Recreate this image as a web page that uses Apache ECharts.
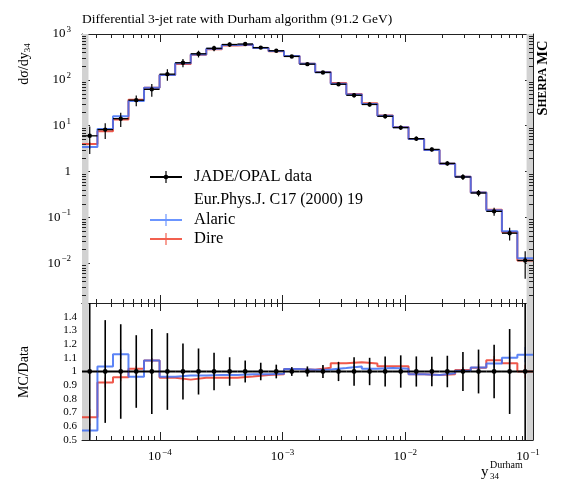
<!DOCTYPE html>
<html>
<head>
<meta charset="utf-8">
<script src="https://cdn.jsdelivr.net/npm/echarts@6/dist/echarts.min.js"></script>
<style>
html, body { margin: 0; padding: 0; background: #fff; }
#chart { width: 562px; height: 483px; }
</style>
</head>
<body>
<div id="chart"></div>
<script>
// y34 bin edges (log spaced)
const binEdges = [2.32e-5, 3.10e-5, 4.15e-5, 5.55e-5, 7.43e-5, 9.95e-5, 1.333e-4, 1.786e-4, 2.39e-4,
  3.20e-4, 4.29e-4, 5.74e-4, 7.69e-4, 1.028e-3, 1.377e-3, 1.845e-3, 2.47e-3, 3.31e-3, 4.43e-3,
  5.93e-3, 7.94e-3, 1.064e-2, 1.425e-2, 1.905e-2, 2.55e-2, 3.42e-2, 4.58e-2, 6.14e-2, 8.20e-2, 0.110];

// JADE/OPAL data and relative errors
const dataVals = [6.0, 8.2, 14.2, 36, 62, 133, 236, 370, 487, 590, 604, 505, 431, 324, 220, 145, 80, 46,
  29, 16, 9.06, 5.2, 3.03, 1.50, 0.76, 0.34, 0.135, 0.045, 0.0114];
const dataRelErr = [0.6, 0.375, 0.345, 0.265, 0.31, 0.28, 0.205, 0.168, 0.136, 0.104, 0.08, 0.064, 0.05,
  0.032, 0.037, 0.047, 0.07, 0.104, 0.1, 0.11, 0.118, 0.11, 0.107, 0.115, 0.142, 0.16, 0.195, 0.31, 0.6];

// Sherpa MC (Alaric / Dire shower)
const alaricVals = [3.42, 8.50, 16.0, 34.6, 67.0, 128, 229, 359, 475, 575, 592, 495, 424, 330, 223, 147,
  82.0, 47.7, 29.6, 16.4, 9.24, 5.10, 2.95, 1.48, 0.764, 0.350, 0.143, 0.0495, 0.0128];
const direVals = [4.00, 7.54, 13.6, 36.7, 67.0, 127, 222, 353, 465, 563, 582, 492, 422, 330, 223, 149,
  84.8, 49.1, 30.7, 16.6, 9.40, 5.10, 2.95, 1.47, 0.769, 0.349, 0.146, 0.0477, 0.0114];
const alaricRelErr = [0.09, 0.04, 0.03, 0.02, 0.015, 0.01, 0.01, 0.01, 0.008, 0.008, 0.008, 0.008, 0.008,
  0.008, 0.008, 0.01, 0.01, 0.01, 0.01, 0.012, 0.012, 0.015, 0.015, 0.018, 0.02, 0.025, 0.03, 0.04, 0.05];
const direRelErr = [0.09, 0.04, 0.03, 0.02, 0.015, 0.01, 0.01, 0.01, 0.008, 0.008, 0.008, 0.008, 0.008,
  0.008, 0.008, 0.01, 0.01, 0.01, 0.01, 0.012, 0.012, 0.015, 0.015, 0.018, 0.02, 0.025, 0.03, 0.04, 0.05];

// grey bands at the edges of the range
const bandRanges = [[2.32e-5, 2.62e-5], [0.0975, 0.110]];

// tick labels
const mainYTicks = [1e-2, 1e-1, 1, 10, 100, 1000];
const xTicks = [1e-4, 1e-3, 1e-2, 1e-1];
const ratioTicks = [0.5, 0.6, 0.7, 0.8, 0.9, 1, 1.1, 1.2, 1.3, 1.4];

const FONT = 'Liberation Serif';
const BLUE = '#3f6ff5';
const RED = '#ec3b2c';
const X_MIN = binEdges[0], X_MAX = binEdges[binEdges.length - 1];
const Y_MIN = 1.35e-3, Y_MAX = 1000;

const n = dataVals.length;

function minorLog(lo, hi) {
  const out = [];
  for (let e = Math.floor(Math.log10(lo)); e <= Math.ceil(Math.log10(hi)); e++) {
    for (let m = 2; m <= 9; m++) {
      const v = m * Math.pow(10, e);
      if (v > lo && v < hi) out.push(v);
    }
  }
  return out;
}

const supMinus = s => String(s).replace('-', '\u2212');
const isTick = (v, list) => list.some(t => Math.abs(Math.log10(v) - Math.log10(t)) < 1e-6);

const powRich = {
  b: { fontFamily: FONT, fontSize: 13, color: '#000' },
  s: { fontFamily: FONT, fontSize: 9, color: '#000', padding: [0, 0, 9, 1] }
};
function powLabel(v) {
  const e = Math.round(Math.log10(v));
  if (e === 0) return '{b|1}';
  return '{b|10}{s|' + supMinus(e) + '}';
}

function xAx(grid, pos, labels) {
  return {
    type: 'log', logBase: 10, gridIndex: grid, position: pos, min: X_MIN, max: X_MAX,
    axisLine: { show: true, onZero: false, lineStyle: { color: '#222', width: 1 } },
    axisTick: { show: true, inside: true, length: 8, lineStyle: { color: '#222' } },
    axisLabel: labels ? {
      show: true, margin: 8, rich: powRich,
      formatter: v => isTick(v, xTicks) ? powLabel(v) : ''
    } : { show: false },
    splitLine: { show: false }
  };
}

function yMain(pos, labels) {
  return {
    type: 'log', logBase: 10, gridIndex: 0, position: pos, min: Y_MIN, max: Y_MAX,
    axisLine: { show: true, onZero: false, lineStyle: { color: '#222', width: 1 } },
    axisTick: { show: true, inside: true, length: 8, lineStyle: { color: '#222' } },
    axisLabel: labels ? {
      show: true, margin: 11, rich: powRich,
      formatter: v => isTick(v, mainYTicks) ? powLabel(v) : ''
    } : { show: false },
    splitLine: { show: false }
  };
}

function yRatio(pos, labels) {
  return {
    type: 'value', gridIndex: 1, position: pos, min: 0.5, max: 1.5, interval: 0.1,
    axisLine: { show: true, onZero: false, lineStyle: { color: '#222', width: 1 } },
    axisTick: { show: true, inside: true, length: 6, lineStyle: { color: '#222' } },
    axisLabel: labels ? {
      show: true, margin: 5, fontFamily: FONT, fontSize: 11, color: '#000',
      formatter: v => {
        const hit = ratioTicks.find(t => Math.abs(t - v) < 1e-6);
        return hit === undefined ? '' : (hit === 1 ? '1' : hit.toFixed(1));
      }
    } : { show: false },
    splitLine: { show: false }
  };
}

// tick marks for the minor divisions, drawn on both sides of a panel
function tickSeries(xi, yi, vals, dir, len, refX, refY) {
  return {
    type: 'custom', xAxisIndex: xi, yAxisIndex: yi, silent: true, clip: false, z: 6,
    data: vals.map(v => dir === 'x' ? [v, refY] : [refX, v]),
    encode: { x: 0, y: 1 },
    renderItem(params, api) {
      const cs = params.coordSys;
      const p = api.coord([api.value(0), api.value(1)]);
      const st = { stroke: '#222', lineWidth: 1 };
      if (dir === 'x') {
        const x = Math.round(p[0]) + 0.5;
        return { type: 'group', children: [
          { type: 'line', shape: { x1: x, y1: cs.y, x2: x, y2: cs.y + len }, style: st },
          { type: 'line', shape: { x1: x, y1: cs.y + cs.height, x2: x, y2: cs.y + cs.height - len }, style: st }
        ] };
      }
      const y = Math.round(p[1]) + 0.5;
      return { type: 'group', children: [
        { type: 'line', shape: { x1: cs.x, y1: y, x2: cs.x + len, y2: y }, style: st },
        { type: 'line', shape: { x1: cs.x + cs.width, y1: y, x2: cs.x + cs.width - len, y2: y }, style: st }
      ] };
    }
  };
}

function bandSeries(xi, yi, refY) {
  return {
    type: 'custom', xAxisIndex: xi, yAxisIndex: yi, silent: true, clip: true, z: 1,
    data: bandRanges.map(r => [r[0], r[1], refY]),
    encode: { x: [0, 1], y: 2 },
    renderItem(params, api) {
      const cs = params.coordSys;
      const a = api.coord([api.value(0), api.value(2)]);
      const b = api.coord([api.value(1), api.value(2)]);
      return { type: 'rect', shape: { x: a[0], y: cs.y, width: b[0] - a[0], height: cs.height },
        style: { fill: '#d2d2d2' } };
    }
  };
}

function stepSeries(name, xi, yi, vals, color) {
  const pts = binEdges.map((e, i) => [e, vals[Math.min(i, n - 1)]]);
  return {
    name, type: 'line', xAxisIndex: xi, yAxisIndex: yi, step: 'end', data: pts,
    symbol: 'none', lineStyle: { color, width: 2, opacity: 0.85 }, z: 3, silent: true
  };
}

// error crosses: [xlo, xhi, y, ylo, yhi]
function crossSeries(name, xi, yi, rows, color, barWidth, dotR, lw, z) {
  return {
    name, type: 'custom', xAxisIndex: xi, yAxisIndex: yi, clip: true, silent: true, z,
    data: rows, encode: { x: [0, 1], y: [2, 3, 4] },
    renderItem(params, api) {
      const xl = api.value(0), xh = api.value(1), y = api.value(2);
      const xc = Math.sqrt(xl * xh);
      const c = api.coord([xc, y]);
      const lo = api.coord([xc, api.value(3)]);
      const hi = api.coord([xc, api.value(4)]);
      const kids = [{ type: 'line', shape: { x1: c[0], y1: lo[1], x2: c[0], y2: hi[1] },
        style: { stroke: color, lineWidth: lw } }];
      if (barWidth) {
        const a = api.coord([xl, y]), b = api.coord([xh, y]);
        kids.push({ type: 'line', shape: { x1: a[0], y1: a[1], x2: b[0], y2: b[1] },
          style: { stroke: color, lineWidth: barWidth } });
      }
      if (dotR) kids.push({ type: 'circle', shape: { cx: c[0], cy: c[1], r: dotR }, style: { fill: color } });
      return { type: 'group', children: kids };
    }
  };
}

const dataMain = dataVals.map((v, i) => [binEdges[i], binEdges[i + 1], v, v * (1 - dataRelErr[i]), v * (1 + dataRelErr[i])]);
const dataRatio = dataVals.map((v, i) => [binEdges[i], binEdges[i + 1], 1, 1 - dataRelErr[i], 1 + dataRelErr[i]]);
const mcMain = (vals, err) => vals.map((v, i) => [binEdges[i], binEdges[i + 1], v, v * (1 - err[i]), v * (1 + err[i])]);
const mcRatio = (vals, err) => vals.map((v, i) => {
  const r = v / dataVals[i];
  return [binEdges[i], binEdges[i + 1], r, r * (1 - err[i]), r * (1 + err[i])];
});
const ratioOf = vals => vals.map((v, i) => v / dataVals[i]);

const xMinor = minorLog(X_MIN, X_MAX);
const yMinor = minorLog(Y_MIN, Y_MAX);

const chart = echarts.init(document.getElementById('chart'), null, { renderer: 'canvas' });

const legendItem = (y, color, dot) => {
  const items = [
    { type: 'line', shape: { x1: 150, y1: y, x2: 182, y2: y }, style: { stroke: color, lineWidth: 2 } },
    { type: 'line', shape: { x1: 166, y1: y - 6, x2: 166, y2: y + 6 }, style: { stroke: color, lineWidth: 1.2 } }
  ];
  if (dot) items.push({ type: 'circle', shape: { cx: 166, cy: y, r: 2.3 }, style: { fill: color } });
  return items;
};
const txt = (x, y, text, size, extra) => Object.assign({
  type: 'text', x, y,
  style: { text, fontFamily: FONT, fontSize: size, fill: '#000', align: 'left', verticalAlign: 'middle' }
}, extra || {});

chart.setOption({
  animation: false,
  backgroundColor: '#fff',
  title: {
    text: 'Differential 3-jet rate with Durham algorithm (91.2 GeV)',
    left: 77, top: 7,
    textStyle: { fontFamily: FONT, fontSize: 13.5, fontWeight: 'normal', color: '#000' }
  },
  grid: [
    { left: 82, right: 29, top: 34, height: 269 },
    { left: 82, right: 29, top: 303, height: 137 }
  ],
  xAxis: [xAx(0, 'bottom', false), xAx(0, 'top', false), xAx(1, 'bottom', true), xAx(1, 'top', false)],
  yAxis: [yMain('left', true), yMain('right', false), yRatio('left', true), yRatio('right', false)],
  series: [
    bandSeries(0, 0, 1),
    bandSeries(2, 2, 1),
    tickSeries(0, 0, xMinor, 'x', 4, 1e-3, 1),
    tickSeries(2, 2, xMinor, 'x', 4, 1e-3, 1),
    tickSeries(0, 0, yMinor, 'y', 4, 1e-3, 1),
    stepSeries('Dire', 0, 0, direVals, RED),
    stepSeries('Alaric', 0, 0, alaricVals, BLUE),
    crossSeries('Dire err', 0, 0, mcMain(direVals, direRelErr), RED, 0, 0, 1.2, 4),
    crossSeries('Alaric err', 0, 0, mcMain(alaricVals, alaricRelErr), BLUE, 0, 0, 1.2, 4),
    crossSeries('JADE/OPAL data', 0, 0, dataMain, '#000', 1.3, 2.2, 1.2, 5),
    stepSeries('Dire ratio', 2, 2, ratioOf(direVals), RED),
    stepSeries('Alaric ratio', 2, 2, ratioOf(alaricVals), BLUE),
    crossSeries('Dire ratio err', 2, 2, mcRatio(direVals, direRelErr), RED, 0, 0, 1.2, 4),
    crossSeries('Alaric ratio err', 2, 2, mcRatio(alaricVals, alaricRelErr), BLUE, 0, 0, 1.2, 4),
    crossSeries('data ratio', 2, 2, dataRatio, '#000', 2, 2.4, 1.6, 5)
  ],
  graphic: [
    ...legendItem(177, '#000', true),
    txt(194, 177, 'JADE/OPAL data', 16.5),
    txt(194, 200, 'Eur.Phys.J. C17 (2000) 19', 16),
    ...legendItem(220, '#6b95ff', false),
    txt(194, 220, 'Alaric', 16.5),
    ...legendItem(239, '#f2604f', false),
    txt(194, 239, 'Dire', 16.5),
    {
      type: 'text', x: 24, y: 64, rotation: Math.PI / 2,
      style: {
        text: '{a|d\u03c3/dy}{s|34}', align: 'center', verticalAlign: 'middle',
        rich: {
          a: { fontFamily: FONT, fontSize: 14, fill: '#000' },
          s: { fontFamily: FONT, fontSize: 9, fill: '#000', padding: [7, 0, 0, 0] }
        }
      }
    },
    {
      type: 'text', x: 24, y: 372, rotation: Math.PI / 2,
      style: { text: 'MC/Data', fontFamily: FONT, fontSize: 14, fill: '#000', align: 'center', verticalAlign: 'middle' }
    },
    {
      type: 'text', x: 543, y: 78, rotation: Math.PI / 2,
      style: {
        text: '{b|S}{c|HERPA} {b|MC}', align: 'center', verticalAlign: 'middle',
        rich: {
          b: { fontFamily: FONT, fontSize: 14.5, fontWeight: 'bold', fill: '#000' },
          c: { fontFamily: FONT, fontSize: 11.5, fontWeight: 'bold', fill: '#000' }
        }
      }
    },
    txt(481, 472, 'y', 15),
    txt(490, 465, 'Durham', 10),
    txt(490, 477, '34', 9)
  ]
});
</script>
</body>
</html>
